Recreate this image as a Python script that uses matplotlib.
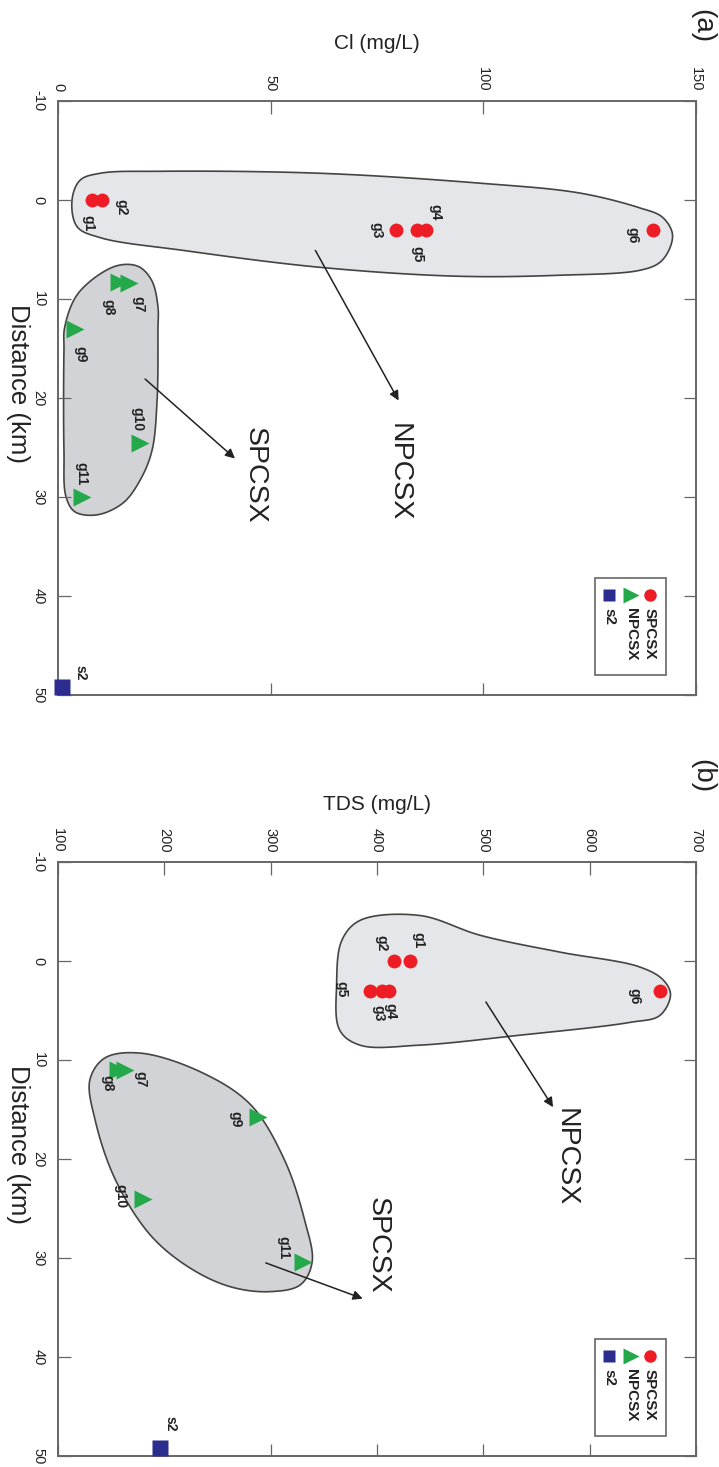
import numpy as np
import matplotlib
matplotlib.use("Agg")
import matplotlib.pyplot as plt
from matplotlib.patches import Polygon, Rectangle

plt.rcParams['font.family'] = ['Liberation Sans', 'DejaVu Sans']
plt.rcParams['axes.unicode_minus'] = False

# ---------------- data ----------------
red_names = ['g1', 'g2', 'g3', 'g4', 'g5', 'g6']
red_dist = [0, 0, 3, 3, 3, 3]
red_cl = [8.0, 10.3, 79.5, 86.5, 84.4, 140.0]
red_tds = [431, 416, 411, 405, 393, 666]

green_names = ['g7', 'g8', 'g9', 'g10', 'g11']
green_dist_a = [8.4, 8.3, 13.0, 24.5, 30.0]
green_dist_b = [11.0, 11.0, 15.8, 24.0, 30.4]
green_cl = [16.8, 14.4, 4.0, 19.3, 5.6]
green_tds = [163, 156, 288, 180, 330]

s_names = ['s2']
s_dist = [49.2]
s_cl = [1.0]
s_tds = [196]

legend_labels = ['SPCSX', 'NPCSX', 's2']

# hull outlines (Cl / TDS, distance)
hullA1_x = [3.3, 5.2, 9.9, 24, 61.6, 99.2, 122.7, 136.8, 142, 144.4, 143.9, 141.5, 136.8, 118, 94, 61.6, 29.6, 9.9, 4.5]
hullA1_y = [0, -2.0, -2.7, -2.9, -2.7, -1.7, -0.7, 0.8, 1.7, 3.3, 4.8, 6.3, 7.1, 7.6, 7.7, 6.8, 5.1, 3.8, 2.7]
hullA2_x = [13.4, 18.8, 22.0, 23.5, 23.5, 23.3, 22.1, 19.3, 15.3, 9.2, 4.0, 1.9, 1.4, 1.4, 1.6, 4.8]
hullA2_y = [6.7, 6.7, 8.1, 10.8, 13.1, 20.2, 25.3, 28.3, 30.6, 31.8, 31.5, 30.0, 25.3, 15.2, 12.8, 9.4]
hullB1_x = [362, 367, 384, 440, 497, 572, 647, 669, 676, 666, 638, 534, 440, 384, 365]
hullB1_y = [2.4, -2.1, -4.1, -4.6, -2.6, -0.9, 0.6, 1.9, 3.4, 5.5, 6.2, 7.5, 8.5, 8.5, 7.0]
hullB2_x = [144, 177, 234, 281, 313, 332, 339, 328, 299, 262, 224, 187, 154, 135, 130]
hullB2_y = [9.8, 9.3, 11.2, 14.5, 20.1, 26.2, 30.4, 32.7, 33.4, 32.9, 31.0, 27.7, 22.1, 16.1, 12.0]

RED = '#ee1c25'
GREEN = '#23a84a'
BLUE = '#2b2d8e'
EDGE = '#444444'
SPINE = '#666666'


def smooth_closed(xs, ys, sx, sy, n=40, alpha=0.5):
    # centripetal Catmull-Rom in pixel space
    P = np.column_stack([np.asarray(xs, float) * sx, np.asarray(ys, float) * sy])
    m = len(P)
    out = []
    for i in range(m):
        p0, p1, p2, p3 = P[(i - 1) % m], P[i], P[(i + 1) % m], P[(i + 2) % m]
        t0 = 0.0
        t1 = t0 + np.linalg.norm(p1 - p0) ** alpha
        t2 = t1 + np.linalg.norm(p2 - p1) ** alpha
        t3 = t2 + np.linalg.norm(p3 - p2) ** alpha
        t = np.linspace(t1, t2, n, endpoint=False)[:, None]
        A1 = (t1 - t) / (t1 - t0) * p0 + (t - t0) / (t1 - t0) * p1
        A2 = (t2 - t) / (t2 - t1) * p1 + (t - t1) / (t2 - t1) * p2
        A3 = (t3 - t) / (t3 - t2) * p2 + (t - t2) / (t3 - t2) * p3
        B1 = (t2 - t) / (t2 - t0) * A1 + (t - t0) / (t2 - t0) * A2
        B2 = (t3 - t) / (t3 - t1) * A2 + (t - t1) / (t3 - t1) * A3
        C = (t2 - t) / (t2 - t1) * B1 + (t - t1) / (t2 - t1) * B2
        out.append(C)
    pts = np.vstack(out)
    pts[:, 0] /= sx
    pts[:, 1] /= sy
    return pts


fig = plt.figure(figsize=(7.19, 14.67), dpi=100)
W, H = 719, 1467


def add_axes(top_px, bottom_px):
    return fig.add_axes([58 / W, 1 - bottom_px / H, 638 / W, (bottom_px - top_px) / H])


axA = add_axes(101, 695)
axB = add_axes(862, 1456)

# label offsets in pixels (dx right, dy down)
offA = {'g1': (-4, 23), 'g2': (20, 7), 'g3': (-20, 0), 'g4': (9, -18), 'g5': (0, 24), 'g6': (-21, 5),
        'g7': (9, 21), 'g8': (-11, 25), 'g9': (5, 25), 'g10': (-3, -23), 'g11': (0, -23), 's2': (18, -14)}
offB = {'g1': (8, -21), 'g2': (-13, -18), 'g3': (-10, 22), 'g4': (8, 20), 'g5': (-28, -2), 'g6': (-25, 5),
        'g7': (15, 9), 'g8': (-10, 13), 'g9': (-23, 2), 'g10': (-23, -3), 'g11': (-19, -14), 's2': (10, -24)}


def setup(ax, xlim, xticks, xlabel, panel, hull1, hull2, arrows, texts,
          xr, xg, gd, xs, offs, label_y):
    ax.set_xlim(*xlim)
    ax.set_ylim(50, -10)
    sx = 638.0 / (xlim[1] - xlim[0])
    sy = 594.0 / 60.0
    for h, fc in ((hull1, '#e5e6e9'), (hull2, '#d2d3d7')):
        pts = smooth_closed(h[0], h[1], sx, sy)
        ax.add_patch(Polygon(pts, closed=True, facecolor=fc, edgecolor=EDGE, lw=1.2, zorder=1))
    ax.plot(xr, red_dist, 'o', color=RED, ms=10, mec='none', zorder=3, clip_on=False)
    ax.plot(xg, gd, '>', color=GREEN, ms=13, mec='none', zorder=3, clip_on=False)
    ax.plot(xs, s_dist, 's', color=BLUE, ms=11, mec='none', zorder=3, clip_on=False)
    allx = list(xr) + list(xg) + list(xs)
    ally = list(red_dist) + list(gd) + list(s_dist)
    for nm, x, y in zip(red_names + green_names + s_names, allx, ally):
        dx, dy = offs[nm]
        ax.annotate(nm, (x, y), xytext=(dx, -dy), textcoords='offset pixels', rotation=-90,
                    ha='center', va='center', fontsize=10, fontweight='bold', color='#222222', zorder=4)
    for (x0, y0, x1, y1) in arrows:
        ax.annotate('', xy=(x1, y1), xytext=(x0, y0),
                    arrowprops=dict(arrowstyle='-|>', color='#222222', lw=1.1, mutation_scale=14),
                    zorder=4)
    for (t, x, y) in texts:
        ax.text(x, y, t, rotation=-90, ha='center', va='center', fontsize=20.5, color='#222222')
    ax.xaxis.set_ticks_position('both')
    ax.yaxis.set_ticks_position('both')
    ax.xaxis.set_label_position('top')
    ax.tick_params(axis='both', direction='in', length=9, width=0.9, color=SPINE,
                   labelsize=10.5, labelcolor='#222222')
    ax.tick_params(axis='x', labeltop=True, labelbottom=False, labelrotation=-90, pad=7)
    ax.tick_params(axis='y', labelleft=True, labelrotation=-90, pad=9)
    ax.set_xticks(xticks)
    ax.set_yticks([-10, 0, 10, 20, 30, 40, 50])
    for lab in ax.get_yticklabels():
        lab.set_va('center')
    for sp in ax.spines.values():
        sp.set_color(SPINE)
        sp.set_linewidth(1.4)
    ax.set_xlabel(xlabel, fontsize=15, labelpad=13, color='#222222')
    ax.set_ylabel('Distance (km)', fontsize=18.5, rotation=-90, labelpad=12, va='center', color='#222222')
    ax.yaxis.set_label_coords(-0.062, 0.525)
    ax.text(702 / 719, label_y, panel, transform=fig.transFigure, rotation=-90, ha='center', va='center',
            fontsize=20, color='#222222')
    # legend (rotated layout)
    ax.add_patch(Rectangle((0.842, 0.034), 0.111, 0.163, transform=ax.transAxes, facecolor='white',
                           edgecolor=SPINE, lw=1.2, zorder=5, clip_on=False))
    for lab, mk, col, lx in zip(legend_labels, ['o', '>', 's'], [RED, GREEN, BLUE], [0.928, 0.898, 0.864]):
        ax.plot([lx], [0.168], mk, color=col, ms=9 if mk != '>' else 11, mec='none',
                transform=ax.transAxes, zorder=6, clip_on=False)
        ax.text(lx, 0.147, lab, transform=ax.transAxes, rotation=-90, ha='center', va='top',
                fontsize=11, fontweight='bold', color='#222222', zorder=6)


setup(axA, (0, 150), [0, 50, 100, 150], 'Cl (mg/L)', '(a)',
      (hullA1_x, hullA1_y), (hullA2_x, hullA2_y),
      [(60.2, 4.85, 80.4, 20.5), (20.0, 17.9, 42.1, 26.3)],
      [('NPCSX', 80.0, 27.5), ('SPCSX', 46.3, 27.8)],
      red_cl, green_cl, green_dist_a, s_cl, offA, 1 - 26 / H)

setup(axB, (100, 700), [100, 200, 300, 400, 500, 600, 700], 'TDS (mg/L)', '(b)',
      (hullB1_x, hullB1_y), (hullB2_x, hullB2_y),
      [(501, 3.9, 567, 15.0), (293, 30.4, 389, 34.2)],
      [('NPCSX', 577, 19.8), ('SPCSX', 401, 28.7)],
      red_tds, green_tds, green_dist_b, s_tds, offB, 1 - 776 / H)

fig.savefig('out.png', dpi=100)
